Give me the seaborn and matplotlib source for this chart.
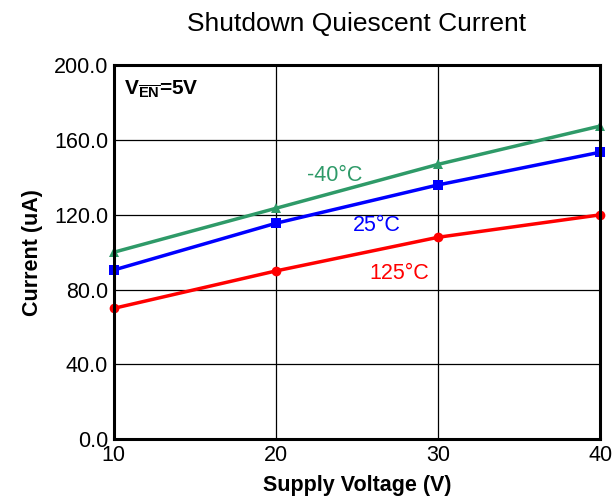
import matplotlib
matplotlib.use("Agg")
import matplotlib.pyplot as plt
import seaborn as sns
import pandas as pd

voltage = [10, 20, 30, 40]
cur_m40 = [100.0, 123.5, 147.0, 167.5]
cur_25 = [90.5, 115.5, 136.0, 153.5]
cur_125 = [70.0, 90.0, 108.0, 120.0]
series_names = ["-40°C", "25°C", "125°C"]
y_ticks = [0, 40, 80, 120, 160, 200]
x_ticks = [10, 20, 30, 40]

sns.set_style("white")
plt.rcParams['font.family'] = ['Liberation Sans', 'DejaVu Sans']
plt.rcParams['mathtext.fontset'] = 'custom'
plt.rcParams['mathtext.rm'] = 'Liberation Sans'
plt.rcParams['mathtext.bf'] = 'Liberation Sans:bold'
plt.rcParams['text.color'] = 'black'
plt.rcParams['axes.labelcolor'] = 'black'
plt.rcParams['xtick.color'] = 'black'
plt.rcParams['ytick.color'] = 'black'

df = pd.DataFrame({
    "V": voltage * 3,
    "I": cur_m40 + cur_25 + cur_125,
    "T": [series_names[0]] * 4 + [series_names[1]] * 4 + [series_names[2]] * 4,
})

colors = {"-40°C": "#2e9a68", "25°C": "#0000ff", "125°C": "#ff0000"}
markers = {"-40°C": "^", "25°C": "s", "125°C": "o"}

fig = plt.figure(figsize=(6.15, 4.98), dpi=100)
ax = fig.add_axes([0.185, 0.118, 0.791, 0.751])
sns.lineplot(data=df, x="V", y="I", hue="T", style="T", palette=colors,
             markers=markers, dashes=False, linewidth=2.5, markersize=7,
             markeredgewidth=0, legend=False, ax=ax, clip_on=False, zorder=3)

ax.set_xlim(10, 40)
ax.set_ylim(0, 200)
ax.set_xticks(x_ticks)
ax.set_yticks(y_ticks)
ax.set_yticklabels([f"{v:.1f}" for v in y_ticks])
ax.tick_params(axis='both', labelsize=15.5, length=0, pad=4, colors='black')
ax.grid(True, color='black', linewidth=0.9)
for s in ax.spines.values():
    s.set_visible(True)
    s.set_color('black')
    s.set_linewidth(2.2)
    s.set_zorder(4)

ax.set_xlabel("Supply Voltage (V)", fontsize=15.5, fontweight='bold', labelpad=6.5)
ax.set_ylabel("Current (uA)", fontsize=15.5, fontweight='bold', labelpad=8)
fig.text(0.58, 0.952, "Shutdown Quiescent Current", ha='center', va='center', fontsize=19)

ax.text(0.022, 0.935, r'$\mathbf{V}_{\overline{\mathbf{EN}}}$=5V', transform=ax.transAxes,
        fontsize=15, fontweight='bold', ha='left', va='center')

ax.text(23.6, 141.0, series_names[0], color=colors["-40°C"], fontsize=15.5, ha='center', va='center')
ax.text(26.2, 114.5, series_names[1], color=colors["25°C"], fontsize=15.5, ha='center', va='center')
ax.text(27.6, 88.5, series_names[2], color=colors["125°C"], fontsize=15.5, ha='center', va='center')

fig.savefig("out.png", dpi=100)
